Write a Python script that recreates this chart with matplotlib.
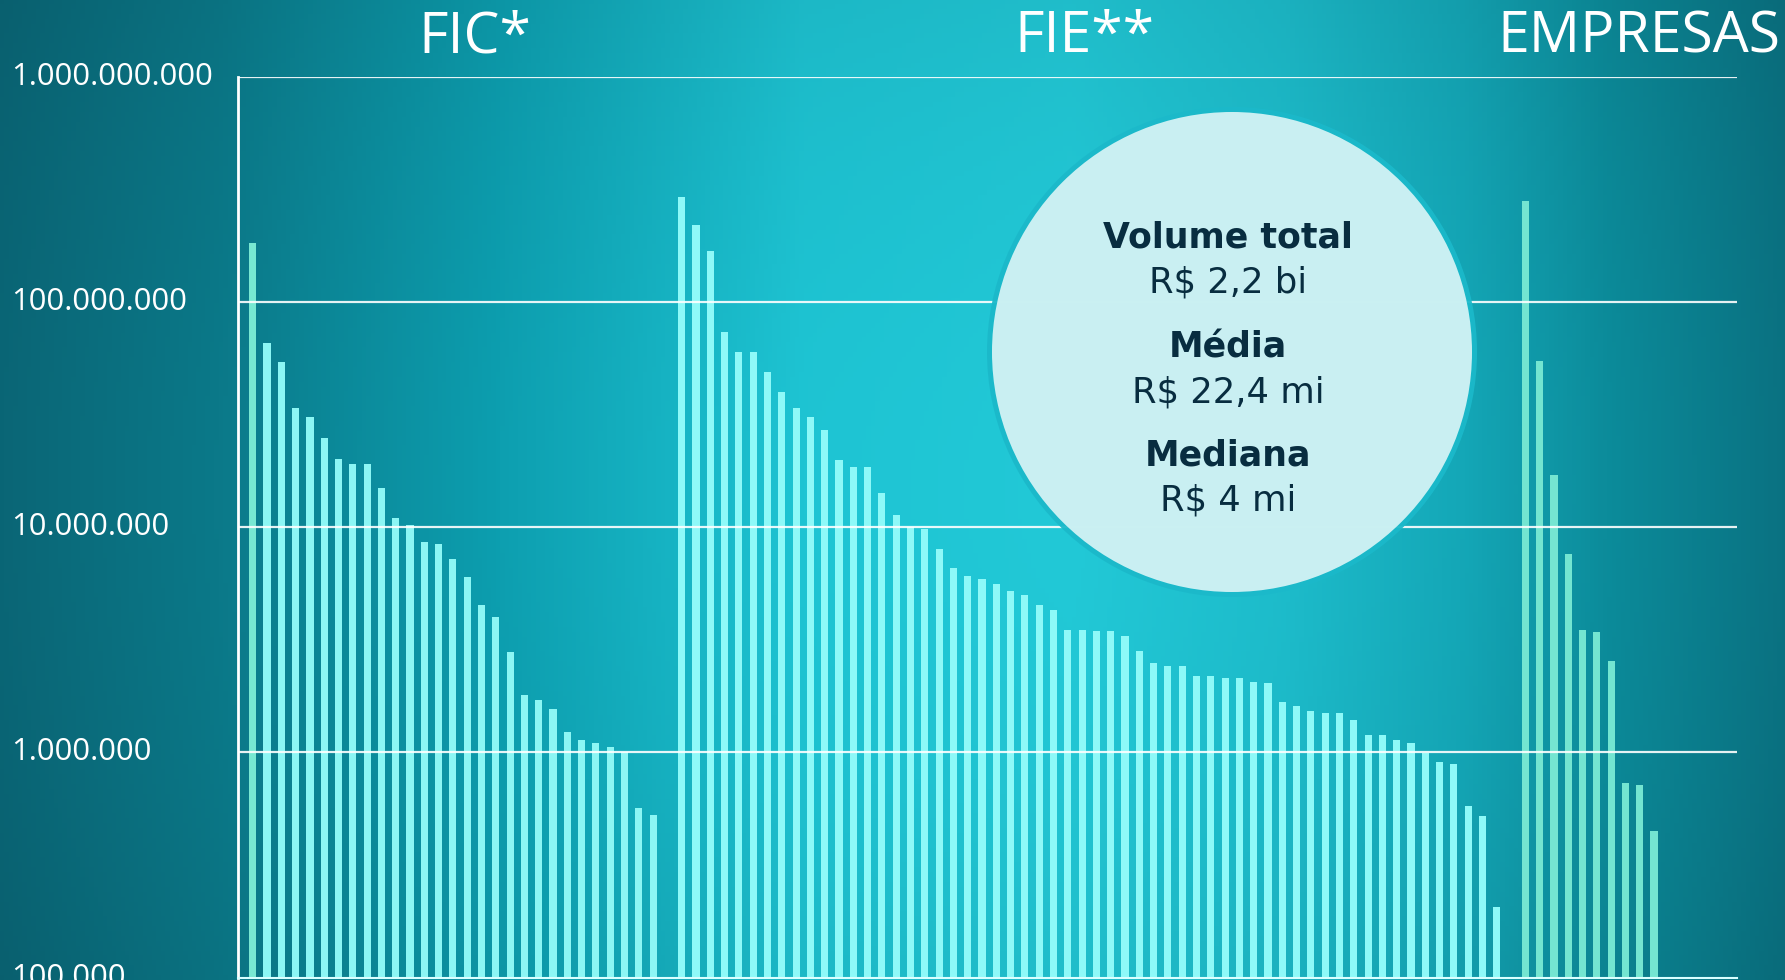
import numpy as np
import matplotlib
matplotlib.use("Agg")
import matplotlib.pyplot as plt
import matplotlib.transforms as mtransforms
from matplotlib.patches import Ellipse

# values in R$ millions
fic = [183, 66, 54, 34, 31, 25, 20, 19, 19, 15, 11, 10.2, 8.6, 8.4, 7.2,
       6.0, 4.5, 4.0, 2.8, 1.80, 1.71, 1.56, 1.23, 1.13, 1.10, 1.06, 1.0,
       0.566, 0.526]
fie = [293, 220, 169, 74, 60, 60, 49, 40, 34, 31, 27, 19.9, 18.6, 18.6,
       14.2, 11.3, 10.0, 9.8, 8.0, 6.6, 6.1, 5.9, 5.6, 5.2, 5.0, 4.5, 4.3,
       3.5, 3.5, 3.47, 3.47, 3.30, 2.82, 2.49, 2.43, 2.41, 2.19, 2.19, 2.14,
       2.14, 2.06, 2.04, 1.68, 1.61, 1.52, 1.49, 1.50, 1.39, 1.19, 1.19,
       1.14, 1.10, 0.99, 0.91, 0.885, 0.577, 0.523, 0.206]
empresas = [280, 55, 17.0, 7.6, 3.5, 3.41, 2.54, 0.73, 0.715, 0.448]

group_names = ["FIC*", "FIE**", "EMPRESAS"]
tick_values = [1e5, 1e6, 1e7, 1e8, 1e9]
tick_labels = ["100.000", "1.000.000", "10.000.000", "100.000.000", "1.000.000.000"]

stats_labels = ["Volume total", "Média", "Mediana"]
stats_values = ["R$ 2,2 bi", "R$ 22,4 mi", "R$ 4 mi"]

W, H = 1785, 980
fig = plt.figure(figsize=(W / 100, H / 100), dpi=100)

# teal gradient background
bg = fig.add_axes([0, 0, 1, 1])
xs = np.linspace(0, 1, 400)
ys = np.linspace(0, 1, 200)
stops = [0.0, 0.12, 0.28, 0.45, 0.6, 0.72, 0.82, 0.9, 1.0]
cols = ["#0a6676", "#0b7989", "#0d9fb0", "#1ec4d3", "#22c9d7",
        "#1dbccb", "#14a7b7", "#0c8c9b", "#0a7282"]
rgb = np.array([matplotlib.colors.to_rgb(c) for c in cols])
row = np.stack([np.interp(xs, stops, rgb[:, k]) for k in range(3)], axis=-1)
vert = 1.0 - 0.06 * (ys - 0.5) ** 2 * 4
img = row[None, :, :] * vert[:, None, None]
bg.imshow(np.clip(img, 0, 1), aspect="auto", extent=[0, 1, 0, 1], origin="lower")
bg.set_axis_off()

ax = fig.add_axes([238 / W, 1 - 977.5 / H, (1737 - 238) / W, (977.5 - 77) / H])
ax.set_facecolor("none")

x_fic = np.arange(len(fic))
x_fie = np.arange(len(fie)) + len(fic) + 1
x_emp = np.arange(len(empresas)) + len(fic) + len(fie) + 2

fic_colors = ["#78e8d2"] + ["#8cf6f4"] * (len(fic) - 1)
ax.bar(x_fic, np.array(fic) * 1e6, width=0.5, color=fic_colors, zorder=2)
ax.bar(x_fie, np.array(fie) * 1e6, width=0.5, color="#8ef9f8", zorder=2)
ax.bar(x_emp, np.array(empresas) * 1e6, width=0.5, color="#74e5d1", zorder=2)

ax.set_yscale("log")
ax.set_ylim(1e5, 1e9)
ax.set_xlim(-1.03, 103.8)

for v in tick_values[1:]:
    ax.axhline(v, color="white", lw=1.6, alpha=0.9, zorder=3)

for s in ["top", "right"]:
    ax.spines[s].set_visible(False)
ax.spines["left"].set_color("white")
ax.spines["left"].set_linewidth(2)
ax.spines["bottom"].set_color("#d8ffff")
ax.spines["bottom"].set_linewidth(1.5)
ax.set_xticks([])
ax.set_yticks([])
ax.minorticks_off()

trans = mtransforms.blended_transform_factory(fig.transFigure, ax.transData)
for v, lab in zip(tick_values, tick_labels):
    fig.text(11 / W, v, lab, transform=trans, ha="left", va="center",
             fontsize=22.3, color="white", family="Open Sans")

title_x = [475, 1084, 1639]
for tx, name in zip(title_x, group_names):
    fig.text(tx / W, 1 - 38 / H, name, ha="center", va="center",
             fontsize=41, color="white", family="Open Sans")

# stats bubble
cx, cy, r = 1232, 352, 240
fig.patches.append(Ellipse((cx / W, 1 - cy / H), 2 * (r + 5) / W, 2 * (r + 5) / H,
                           transform=fig.transFigure, facecolor="#1bb9ca",
                           edgecolor="none", alpha=0.95, zorder=4))
fig.patches.append(Ellipse((cx / W, 1 - cy / H), 2 * r / W, 2 * r / H,
                           transform=fig.transFigure, facecolor="#d4f3f5",
                           edgecolor="none", alpha=0.95, zorder=5))

label_y = [238, 347, 455]
value_y = [283, 392, 500]
for lab, val, ly, vy in zip(stats_labels, stats_values, label_y, value_y):
    fig.text(1228 / W, 1 - ly / H, lab, ha="center", va="center", fontsize=25,
             fontweight="bold", color="#082d40", family="DejaVu Sans", zorder=6)
    fig.text(1228 / W, 1 - vy / H, val, ha="center", va="center", fontsize=25.5,
             color="#082d40", family="DejaVu Sans", zorder=6)

fig.savefig("out.png", dpi=100)
